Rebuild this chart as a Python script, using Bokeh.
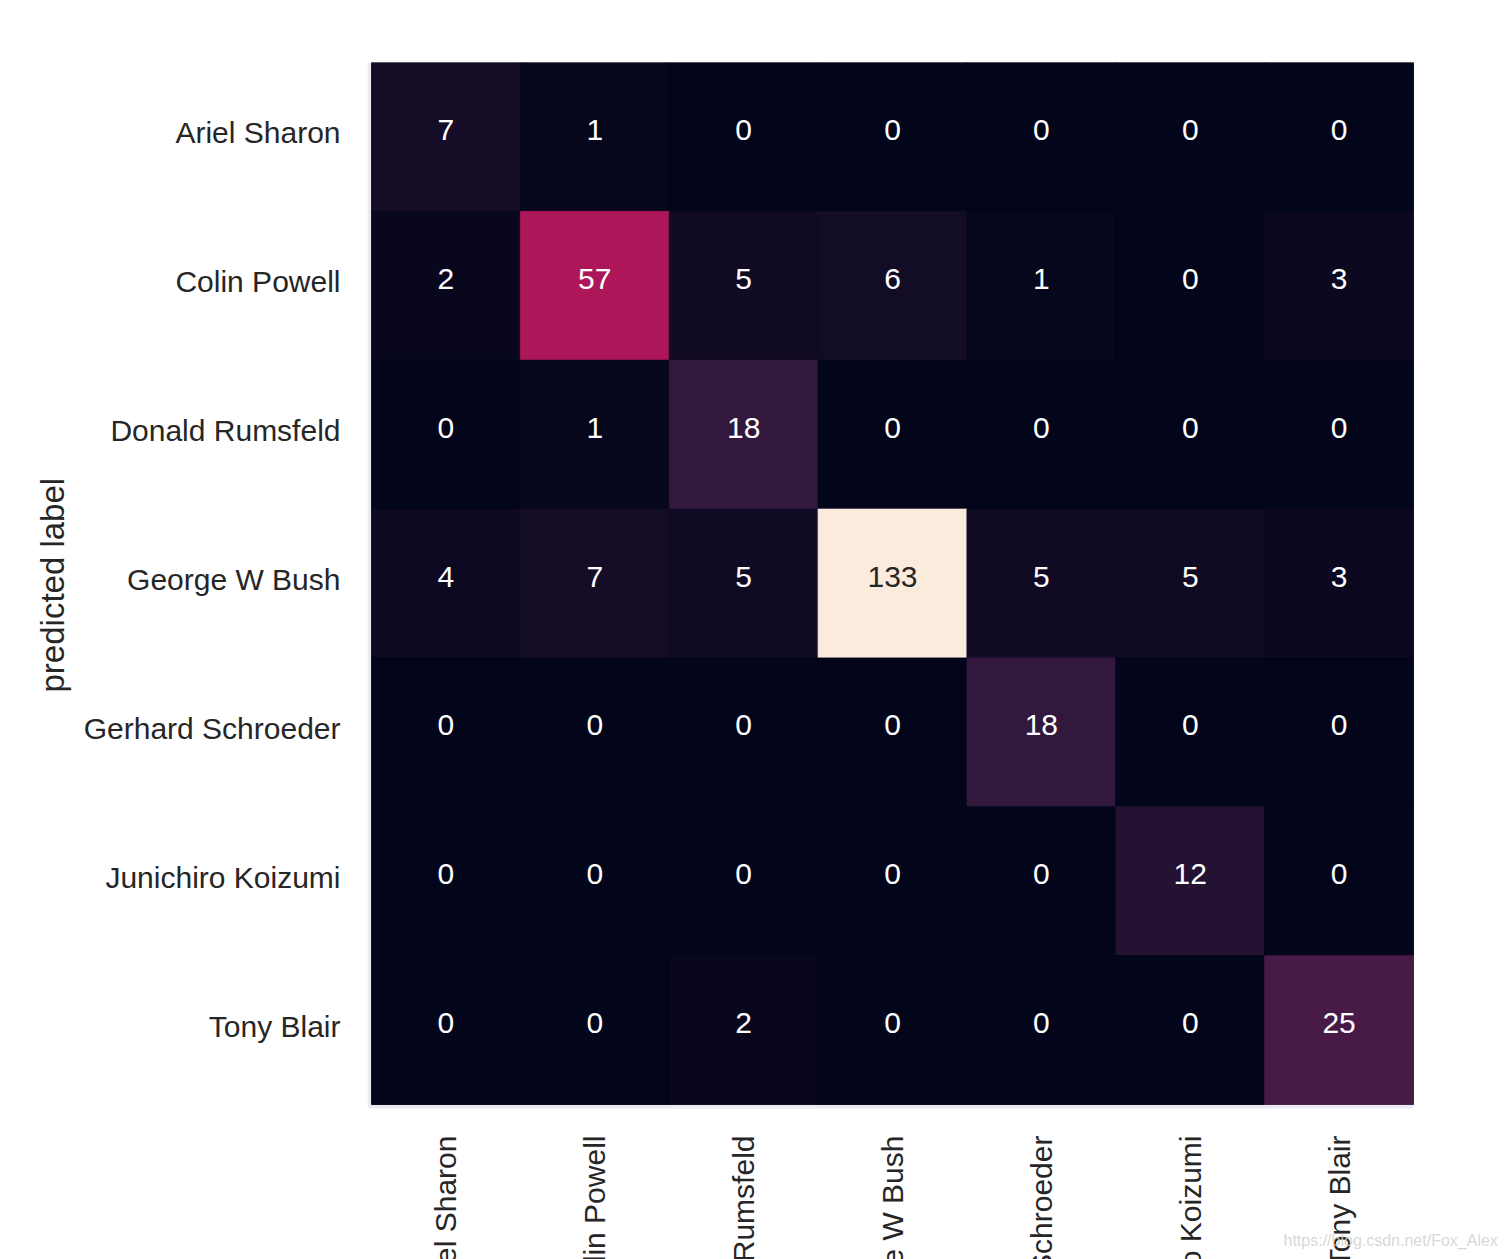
import numpy as np
from bokeh.plotting import figure
from bokeh.models import ColumnDataSource, FixedTicker, Range1d, Title
from bokeh.core.properties import value
from bokeh.embed import file_html
from bokeh.resources import INLINE

# ---- data ----
names = ["Ariel Sharon", "Colin Powell", "Donald Rumsfeld", "George W Bush",
         "Gerhard Schroeder", "Junichiro Koizumi", "Tony Blair"]
row_ariel = [7, 1, 0, 0, 0, 0, 0]
row_colin = [2, 57, 5, 6, 1, 0, 3]
row_donald = [0, 1, 18, 0, 0, 0, 0]
row_george = [4, 7, 5, 133, 5, 5, 3]
row_gerhard = [0, 0, 0, 0, 18, 0, 0]
row_junichiro = [0, 0, 0, 0, 0, 12, 0]
row_tony = [0, 0, 2, 0, 0, 0, 25]
y_axis_label = "predicted label"
watermark = "https://blog.csdn.net/Fox_Alex"

rows = [row_ariel, row_colin, row_donald, row_george, row_gerhard, row_junichiro, row_tony]

# ---- rocket-like palette (styling) ----
anchor_pos = [0.0, 1/7, 2/7, 3/7, 4/7, 5/7, 6/7, 1.0]
anchor_hex = ["#03051a", "#35193e", "#701f57", "#ad1759", "#e13342", "#f37651", "#f6b48f", "#faebdd"]
def hex2rgb(h):
    return [int(h[i:i+2], 16) for i in (1, 3, 5)]
arr = np.array([hex2rgb(h) for h in anchor_hex], dtype=float)
t = np.linspace(0, 1, 256)
pal_rgb = np.stack([np.interp(t, anchor_pos, arr[:, k]) for k in range(3)], axis=1)
palette = ["#%02x%02x%02x" % tuple(int(round(c)) for c in rgb) for rgb in pal_rgb]

vmax = max(max(r) for r in rows)
xs, ys, vals, cols, tcols = [], [], [], [], []
for i, r in enumerate(rows):
    for j, v in enumerate(r):
        xs.append(j + 0.5)
        ys.append(i + 0.5)
        vals.append(v)
        idx = int(round(v / vmax * 255))
        rgb = pal_rgb[idx] / 255.0
        lin = np.where(rgb <= 0.03928, rgb / 12.92, ((rgb + 0.055) / 1.055) ** 2.4)
        lum = 0.2126 * lin[0] + 0.7152 * lin[1] + 0.0722 * lin[2]
        cols.append(palette[idx])
        tcols.append("#262626" if lum > 0.408 else "#ffffff")

src = ColumnDataSource(dict(x=xs, y=ys, v=vals, c=cols, tc=tcols,
                            s=[str(v) for v in vals]))

n = len(names)
W, H = 1505, 1259
left_b, top_b = 367, 62
cell = 148.86
pad = 4 / cell
x_end = -pad + (W - left_b) / cell
y_end = (H - top_b) / cell

p = figure(width=W, height=H, output_backend="svg", toolbar_location=None,
           x_range=Range1d(-pad, x_end), y_range=Range1d(y_end, 0),
           min_border_left=left_b, min_border_right=0, min_border_top=top_b, min_border_bottom=0)
p.background_fill_color = "white"
p.border_fill_color = "white"
p.outline_line_color = None
p.grid.visible = False

# axes background strip (seaborn style) and dark underlay to hide seams
p.quad(left=[-pad], right=[n], top=[0], bottom=[n + pad], fill_color="#eaeaf2", line_color=None)
p.quad(left=[0], right=[n], top=[0], bottom=[n], fill_color=palette[0], line_color=None)

p.rect(x="x", y="y", width=1, height=1, source=src, fill_color="c", line_color="c",
       line_width=0.8)
p.text(x="x", y="y", text="s", source=src, text_color="tc", text_align="center",
       text_baseline="middle", y_offset=-7, text_font=value("Liberation Sans"),
       text_font_size="30px")

# y axis
shift = 4 / cell
yt = [i + 0.5 - shift for i in range(n)]
p.yaxis.ticker = FixedTicker(ticks=yt)
p.yaxis.major_label_overrides = {yt[i]: nm for i, nm in enumerate(names)}
p.yaxis.major_label_text_font = "Liberation Sans"
p.yaxis.major_label_text_font_size = "30px"
p.yaxis.major_label_text_color = "#262626"
p.yaxis.major_tick_line_color = None
p.yaxis.minor_tick_line_color = None
p.yaxis.axis_line_color = None
p.yaxis.major_label_standoff = 21
p.xaxis.visible = False

# y axis title, placed along the heatmap height
p.add_layout(Title(text=y_axis_label, align="left", offset=H - 692, standoff=19,
                   text_font="Liberation Sans", text_font_size="33px",
                   text_font_style="normal", text_color="#262626"), "left")

# x tick labels (rotated, cut by the bottom edge)
xsrc = ColumnDataSource(dict(x=[j + 0.5 for j in range(n)], y=[n + pad + 27 / cell] * n, t=names))
p.text(x="x", y="y", text="t", source=xsrc, angle=np.pi / 2, text_align="right",
       text_baseline="middle", text_font=value("Liberation Sans"), text_font_size="30px",
       text_color="#262626")

wsrc = ColumnDataSource(dict(x=[-pad + (1283 - left_b) / cell], y=[n + pad + 132 / cell], t=[watermark]))
p.text(x="x", y="y", text="t", source=wsrc, text_align="left", text_baseline="middle",
       text_font=value("Liberation Sans"), text_font_size="16px",
       text_color="#d0d0d0", text_alpha=0.85)

open("out.html", "w").write(file_html(p, INLINE))
